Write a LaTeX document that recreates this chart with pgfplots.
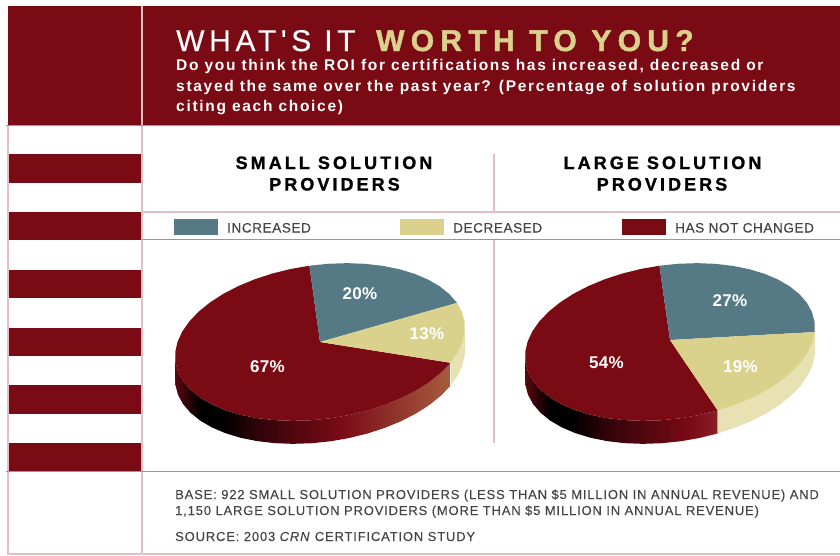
\documentclass[border=0pt]{standalone}
\usepackage{fontspec}
\setmainfont{Liberation Sans}
\newfontfamily\fTitleA[LetterSpace=15.5,FakeBold=0.4]{Liberation Sans}
\newfontfamily\fTitleB[LetterSpace=21,BoldFeatures={FakeBold=1.5}]{Liberation Sans}
\newfontfamily\fBody[LetterSpace=11]{Liberation Sans}
\newfontfamily\fHead[LetterSpace=17,BoldFeatures={FakeBold=1.2}]{Liberation Sans}
\newfontfamily\fLeg[LetterSpace=4,FakeBold=0.3]{Liberation Sans}
\newfontfamily\fFoot[LetterSpace=6.4,FakeBold=0.2]{Liberation Sans}
\newfontfamily\fPct[LetterSpace=2]{Liberation Sans}
\usepackage{pgfplots}
\pgfplotsset{compat=1.18}
\definecolor{maroon}{HTML}{7A0A14}
\definecolor{teal}{HTML}{567A85}
\definecolor{sand}{HTML}{DAD18C}
\definecolor{sandside}{HTML}{E8E1B4}
\definecolor{pinkA}{HTML}{E3BFC3}
\definecolor{pinkB}{HTML}{CC8189}
\definecolor{greytxt}{HTML}{454545}
\definecolor{sA}{HTML}{5A0810}
\definecolor{sB}{HTML}{30040A}
\definecolor{sC}{HTML}{8A2A28}
\definecolor{sD}{HTML}{A85C3C}
\definecolor{sE}{HTML}{8A1E28}
\pgfdeclarehorizontalshading{sideSmall}{100bp}{color(0bp)=(sA); color(25bp)=(sA); color(29.5bp)=(black); color(33.5bp)=(black); color(40bp)=(sB); color(55bp)=(maroon); color(62.5bp)=(sC); color(75bp)=(sD); color(100bp)=(sD)}
\pgfdeclarehorizontalshading{sideLarge}{100bp}{color(0bp)=(sA); color(25bp)=(sA); color(31.5bp)=(black); color(37.5bp)=(black); color(46bp)=(sB); color(67.5bp)=(maroon); color(75bp)=(sE); color(100bp)=(sE)}
\pgfplotsset{pie/.style={hide axis,x=1pt,y=1pt,xmin=-160,xmax=160,ymin=-120,ymax=100,clip=false,anchor=south west}}
\begin{document}
\begin{tikzpicture}
\path[use as bounding box] (0,0) rectangle (840pt,555pt);
\begin{axis}[at={(0,0)},anchor=south west,hide axis,x=1pt,y=1pt,xmin=0,xmax=840,ymin=0,ymax=555,y dir=reverse,clip=false]
\fill[maroon] (8,6) rectangle (840,125);
\foreach \a/\b in {154/183,212/240,270/298,328/356,385/414,443/471}{
  \edef\tmp{\noexpand\fill[maroon] (9,\a) rectangle (142,\b);}\tmp
}
\draw[pinkA,line width=2pt] (142,6) -- (142,555);
\draw[pinkA,line width=1.5pt] (8,125) -- (8,555);
\draw[pinkB,line width=1.5pt] (6,125.5) -- (840,125.5);
\draw[pinkB,line width=1.5pt] (6,471.5) -- (840,471.5);
\draw[pinkA,line width=1.5pt] (8,554) -- (840,554);
\draw[pinkA,line width=2pt] (142,212) -- (840,212);
\draw[pinkB,line width=1.5pt] (142,239.5) -- (840,239.5);
\draw[pinkA,line width=1.8pt] (494,154) -- (494,212);
\draw[pinkA,line width=1.8pt] (494,240) -- (494,443);
% legend
\fill[teal] (174,219) rectangle (218,234.5);
\fill[sand] (400,219) rectangle (444,234.5);
\fill[maroon] (621.5,219) rectangle (666,234.5);
\node[anchor=base west,inner sep=0,text=greytxt,font=\fontsize{13.6}{16}\selectfont\fLeg] at (227,232.5) {INCREASED};
\node[anchor=base west,inner sep=0,text=greytxt,font=\fontsize{13.6}{16}\selectfont\fLeg] at (453,232.5) {DECREASED};
\node[anchor=base west,inner sep=0,text=greytxt,font=\fontsize{13.6}{16}\selectfont\fLeg] at (675,232.5) {HAS NOT CHANGED};
% title
\node[anchor=base west,inner sep=0,text=white,font=\fontsize{30}{32}\selectfont\fTitleA] at (176,51) {WHAT'S IT};
\node[anchor=base west,inner sep=0,text=sand,font=\fontsize{30}{32}\selectfont\fTitleB\bfseries] at (376,51) {WORTH TO YOU?};
\node[anchor=base west,inner sep=0,text=white,font=\fontsize{15.5}{16}\selectfont\fBody\bfseries] at (176,70.5) {Do you think the ROI for certifications has increased, decreased or};
\node[anchor=base west,inner sep=0,text=white,font=\fontsize{15.5}{16}\selectfont\fBody\bfseries] at (176,91) {stayed the same over the past year? (Percentage of solution providers};
\node[anchor=base west,inner sep=0,text=white,font=\fontsize{15.5}{16}\selectfont\fBody\bfseries] at (176,111) {citing each choice)};
% headers
\node[anchor=base,inner sep=0,text=black,font=\fontsize{18}{20}\selectfont\fHead\bfseries] at (334,169) {SMALL SOLUTION};
\node[anchor=base,inner sep=0,text=black,font=\fontsize{18}{20}\selectfont\fHead\bfseries] at (334.5,190.5) {PROVIDERS};
\node[anchor=base,inner sep=0,text=black,font=\fontsize{18}{20}\selectfont\fHead\bfseries] at (662.5,169) {LARGE SOLUTION};
\node[anchor=base,inner sep=0,text=black,font=\fontsize{18}{20}\selectfont\fHead\bfseries] at (662,190.5) {PROVIDERS};
% footer
\node[anchor=base west,inner sep=0,text=greytxt,font=\fontsize{13}{14}\selectfont\fFoot] at (175,499) {BASE: 922 SMALL SOLUTION PROVIDERS (LESS THAN \$5 MILLION IN ANNUAL REVENUE) AND};
\node[anchor=base west,inner sep=0,text=greytxt,font=\fontsize{13}{14}\selectfont\fFoot] at (175,515) {1,150 LARGE SOLUTION PROVIDERS (MORE THAN \$5 MILLION IN ANNUAL REVENUE)};
\node[anchor=base west,inner sep=0,text=greytxt,font=\fontsize{13}{14}\selectfont\fFoot] at (175,541) {SOURCE: 2003 \textit{CRN} CERTIFICATION STUDY};
\end{axis}
% ---------------- small pie: 20 / 13 / 67
\begin{axis}[pie,at={(160pt,93pt)}]
\addplot[draw=none,shade,shading=sideSmall] coordinates {(-144.97,-13.33)(-144.6,-20.06)(-141.98,-29.85)(-136.93,-39.12)(-129.54,-47.72)(-119.94,-55.51)(-108.28,-62.34)(-94.77,-68.11)(-79.64,-72.72)(-63.14,-76.08)(-45.56,-78.14)(-27.2,-78.86)(-8.38,-78.23)(10.58,-76.27)(29.36,-73)(47.64,-68.48)(65.11,-62.79)(81.46,-56.02)(96.42,-48.3)(109.73,-39.75)(121.16,-30.52)(130.52,-20.77)
(130.52,-43.77)(121.16,-53.52)(109.73,-62.75)(96.42,-71.3)(81.46,-79.02)(65.11,-85.79)(47.64,-91.48)(29.36,-96)(10.58,-99.27)(-8.38,-101.23)(-27.2,-101.86)(-45.56,-101.14)(-63.14,-99.08)(-79.64,-95.72)(-94.77,-91.11)(-108.28,-85.34)(-119.94,-78.51)(-129.54,-70.72)(-136.93,-62.12)(-141.98,-52.85)(-144.6,-43.06)(-144.97,-36.33)} --cycle;
\addplot[draw=none,fill=sandside] coordinates {(130.52,-20.77)(137.64,-10.66)(142.41,-0.36)(144.74,9.93)(144.97,13.33)(144.97,-9.67)(144.74,-13.07)(142.41,-23.36)(137.64,-33.66)(130.52,-43.77)} --cycle;
\addplot[draw=none,fill=maroon] coordinates {(0,0)(-10.58,76.27)(-29.36,73)(-47.64,68.48)(-65.11,62.79)(-81.46,56.02)(-96.42,48.3)(-109.73,39.75)(-121.16,30.52)(-130.52,20.77)(-137.64,10.66)(-142.41,0.36)(-144.74,-9.93)(-144.6,-20.06)(-141.98,-29.85)(-136.93,-39.12)(-129.54,-47.72)(-119.94,-55.51)(-108.28,-62.34)(-94.77,-68.11)(-79.64,-72.72)(-63.14,-76.08)(-45.56,-78.14)(-27.2,-78.86)(-8.38,-78.23)(10.58,-76.27)(29.36,-73)(47.64,-68.48)(65.11,-62.79)(81.46,-56.02)(96.42,-48.3)(109.73,-39.75)(121.16,-30.52)(130.52,-20.77)} --cycle;
\addplot[draw=none,fill=teal] coordinates {(0,0)(136.93,39.12)(129.54,47.72)(119.94,55.51)(108.28,62.34)(94.77,68.11)(79.64,72.72)(63.14,76.08)(45.56,78.14)(27.2,78.86)(8.38,78.23)(-10.58,76.27)} --cycle;
\addplot[draw=none,fill=sand] coordinates {(0,0)(130.52,-20.77)(137.64,-10.66)(142.41,-0.36)(144.74,9.93)(144.6,20.06)(141.98,29.85)(136.93,39.12)} --cycle;
\node[text=white,inner sep=0,font=\fontsize{17}{18}\selectfont\fPct\bfseries] at (40,48) {20\%};
\node[text=white,inner sep=0,font=\fontsize{17}{18}\selectfont\fPct\bfseries] at (107,8) {13\%};
\node[text=white,inner sep=0,font=\fontsize{17}{18}\selectfont\fPct\bfseries] at (-52.5,-25) {67\%};
\end{axis}
% ---------------- large pie: 27 / 19 / 54
\begin{axis}[pie,at={(510pt,93pt)}]
\addplot[draw=none,shade,shading=sideLarge] coordinates {(-144.97,-13.33)(-144.6,-20.06)(-141.98,-29.85)(-136.93,-39.12)(-129.54,-47.72)(-119.94,-55.51)(-108.28,-62.34)(-94.77,-68.11)(-79.64,-72.72)(-63.14,-76.08)(-45.56,-78.14)(-27.2,-78.86)(-8.38,-78.23)(10.58,-76.27)(29.36,-73)(47.64,-68.48)
(47.64,-91.48)(29.36,-96)(10.58,-99.27)(-8.38,-101.23)(-27.2,-101.86)(-45.56,-101.14)(-63.14,-99.08)(-79.64,-95.72)(-94.77,-91.11)(-108.28,-85.34)(-119.94,-78.51)(-129.54,-70.72)(-136.93,-62.12)(-141.98,-52.85)(-144.6,-43.06)(-144.97,-36.33)} --cycle;
\addplot[draw=none,fill=sandside] coordinates {(47.64,-68.48)(65.11,-62.79)(81.46,-56.02)(96.42,-48.3)(109.73,-39.75)(121.16,-30.52)(130.52,-20.77)(137.64,-10.66)(142.41,-0.36)(144.74,9.93)(144.97,13.33)(144.97,-9.67)(144.74,-13.07)(142.41,-23.36)(137.64,-33.66)(130.52,-43.77)(121.16,-53.52)(109.73,-62.75)(96.42,-71.3)(81.46,-79.02)(65.11,-85.79)(47.64,-91.48)} --cycle;
\addplot[draw=none,fill=maroon] coordinates {(0,2)(-10.58,76.27)(-29.36,73)(-47.64,68.48)(-65.11,62.79)(-81.46,56.02)(-96.42,48.3)(-109.73,39.75)(-121.16,30.52)(-130.52,20.77)(-137.64,10.66)(-142.41,0.36)(-144.74,-9.93)(-144.6,-20.06)(-141.98,-29.85)(-136.93,-39.12)(-129.54,-47.72)(-119.94,-55.51)(-108.28,-62.34)(-94.77,-68.11)(-79.64,-72.72)(-63.14,-76.08)(-45.56,-78.14)(-27.2,-78.86)(-8.38,-78.23)(10.58,-76.27)(29.36,-73)(47.64,-68.48)} --cycle;
\addplot[draw=none,fill=teal] coordinates {(0,2)(144.74,9.93)(144.6,20.06)(141.98,29.85)(136.93,39.12)(129.54,47.72)(119.94,55.51)(108.28,62.34)(94.77,68.11)(79.64,72.72)(63.14,76.08)(45.56,78.14)(27.2,78.86)(8.38,78.23)(-10.58,76.27)} --cycle;
\addplot[draw=none,fill=sand] coordinates {(0,2)(47.64,-68.48)(65.11,-62.79)(81.46,-56.02)(96.42,-48.3)(109.73,-39.75)(121.16,-30.52)(130.52,-20.77)(137.64,-10.66)(142.41,-0.36)(144.74,9.93)} --cycle;
\node[text=white,inner sep=0,font=\fontsize{17}{18}\selectfont\fPct\bfseries] at (60,41) {27\%};
\node[text=white,inner sep=0,font=\fontsize{17}{18}\selectfont\fPct\bfseries] at (70.5,-25) {19\%};
\node[text=white,inner sep=0,font=\fontsize{17}{18}\selectfont\fPct\bfseries] at (-63.5,-21) {54\%};
\end{axis}
\end{tikzpicture}
\end{document}
